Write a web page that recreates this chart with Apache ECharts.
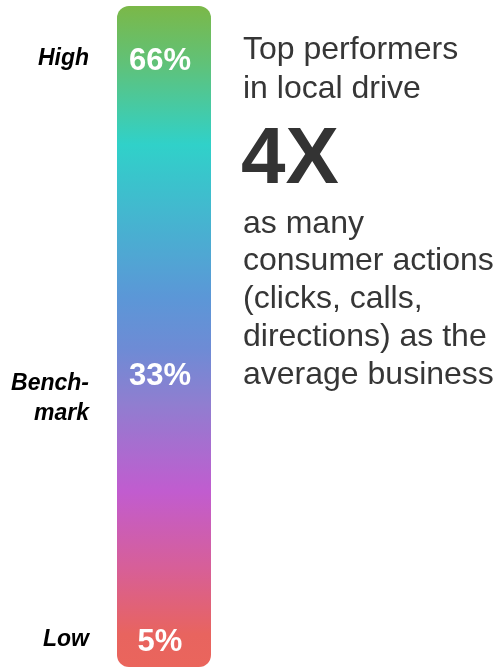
<!DOCTYPE html>
<html>
<head>
<meta charset="utf-8">
<script src="https://cdn.jsdelivr.net/npm/echarts@6/dist/echarts.min.js"></script>
<style>html,body{margin:0;padding:0;background:#fff;}#c{width:498px;height:668px;}</style>
</head>
<body>
<div id="c"></div>
<script>
// Data
const levelNames = ['High', 'Bench-\nmark', 'Low'];
const levelValues = ['66%', '33%', '5%'];
const levelScale = [92, 44.4, 4.1];   // position of each level on the 0–100 performance scale
const scaleMax = [100];
const headline = 'Top performers\nin local drive';
const bigStat = '4X';
const subText = 'as many\nconsumer actions\n(clicks, calls,\ndirections) as the\naverage business';

const chart = echarts.init(document.getElementById('c'), null, {renderer: 'canvas'});
const FONT = '"Liberation Sans", Arial, sans-serif';

const pointData = levelScale.map((v, i) => ({
  value: [0, v],
  name: levelNames[i],
  label: i === 1 ? {offset: [0, 25]} : {}
}));
const valueData = levelScale.map((v, i) => ({value: [0, v], name: levelValues[i]}));

chart.setOption({
  animation: false,
  backgroundColor: '#ffffff',
  textStyle: {fontFamily: FONT},
  title: [
    {text: headline, left: 243, top: 31, padding: 0, textStyle: {fontFamily: FONT, fontSize: 32, fontWeight: 'normal', color: '#363636', lineHeight: 39}},
    {text: bigStat, left: 241, top: 121, padding: 0, textStyle: {fontFamily: FONT, fontSize: 80, fontWeight: 'bold', color: '#333333', lineHeight: 80}},
    {text: subText, left: 243, top: 205, padding: 0, textStyle: {fontFamily: FONT, fontSize: 32, fontWeight: 'normal', color: '#363636', lineHeight: 37.75}}
  ],
  grid: {left: 117, width: 94, top: 6, bottom: 1, containLabel: false},
  xAxis: {type: 'category', data: ['scale'], show: false},
  yAxis: {type: 'value', min: 0, max: 100, show: false},
  series: [
    {
      type: 'bar',
      data: scaleMax,
      barWidth: '100%',
      silent: true,
      itemStyle: {
        borderRadius: 12,
        color: new echarts.graphic.LinearGradient(0, 0, 0, 1, [
          {offset: 0, color: '#7bb848'},
          {offset: 0.09, color: '#5fc27a'},
          {offset: 0.21, color: '#30d1c9'},
          {offset: 0.44, color: '#5b97d7'},
          {offset: 0.52, color: '#6e8bd5'},
          {offset: 0.60, color: '#8f7ed0'},
          {offset: 0.735, color: '#c15ccf'},
          {offset: 0.85, color: '#d75f98'},
          {offset: 0.95, color: '#e8645f'},
          {offset: 1, color: '#ea655c'}
        ])
      }
    },
    {
      type: 'scatter',
      data: valueData,
      symbolSize: 0,
      silent: true,
      z: 5,
      itemStyle: {opacity: 1},
      label: {show: true, position: 'inside', offset: [-4, 2.5], formatter: p => p.name, color: '#ffffff', opacity: 1, textBorderWidth: 0, fontFamily: FONT, fontSize: 31, fontWeight: 'bold'}
    },
    {
      type: 'scatter',
      data: pointData,
      symbolSize: 0,
      silent: true,
      itemStyle: {opacity: 1},
      label: {show: true, position: 'left', distance: 75, align: 'right', formatter: p => p.name, color: '#000000', opacity: 1, fontFamily: FONT, fontSize: 23, fontWeight: 'bold', fontStyle: 'italic', lineHeight: 30}
    }
  ]
});
</script>
</body>
</html>
